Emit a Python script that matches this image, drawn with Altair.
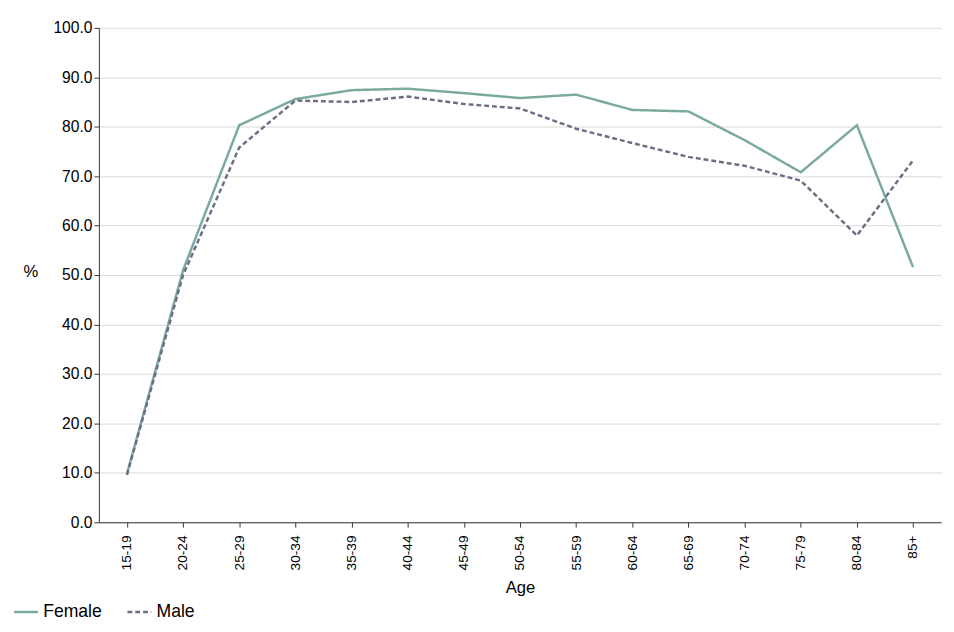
import altair as alt
import pandas as pd

ages = ["15-19", "20-24", "25-29", "30-34", "35-39", "40-44", "45-49", "50-54",
        "55-59", "60-64", "65-69", "70-74", "75-79", "80-84", "85+"]
female = [9.8, 51.0, 80.3, 85.6, 87.4, 87.7, 86.8, 85.8, 86.5, 83.4, 83.1, 77.3, 70.8, 80.3, 51.6]
male = [9.6, 50.0, 75.8, 85.3, 85.0, 86.1, 84.6, 83.7, 79.6, 76.7, 73.9, 72.1, 69.1, 58.0, 73.2]

df = pd.concat([
    pd.DataFrame({"Age": ages, "value": female, "Sex": "Female"}),
    pd.DataFrame({"Age": ages, "value": male, "Sex": "Male"}),
])

font = "Liberation Sans"

chart = alt.Chart(df).mark_line(strokeWidth=2.5).encode(
    x=alt.X("Age:N", sort=ages, title="Age",
            scale=alt.Scale(paddingOuter=0.5, paddingInner=0),
            axis=alt.Axis(labelAngle=-90, grid=False, domainColor="#333", tickColor="#333",
                          labelFontSize=14, titleFontSize=17, labelColor="#000",
                          titleFontWeight="normal", titleColor="#000", labelPadding=8,
                          titlePadding=10)),
    y=alt.Y("value:Q", title="%", scale=alt.Scale(domain=[0, 100]),
            axis=alt.Axis(values=list(range(0, 101, 10)), format=".1f", gridColor="#d9d9d9",
                          domainColor="#333", tickColor="#333", labelFontSize=16,
                          titleFontSize=17, titleAngle=0, titleFontWeight="normal",
                          titleColor="#000", labelColor="#000", titleX=-70, titleY=258)),
    color=alt.Color("Sex:N", scale=alt.Scale(domain=["Female", "Male"], range=["#7aaa9f", "#6e6d85"]),
                    legend=alt.Legend(title=None, orient="none", legendX=-88, legendY=584,
                                      direction="horizontal", symbolType="stroke",
                                      symbolSize=600, symbolStrokeWidth=2.5, labelFontSize=18,
                                      columnPadding=20)),
    strokeDash=alt.StrokeDash("Sex:N", scale=alt.Scale(domain=["Female", "Male"], range=[[1, 0], [5, 3]]),
                              legend=None),
).properties(
    width=862, height=506
).configure(font=font).configure_view(stroke=None)

chart.save("out.html", embed_options={"renderer": "svg", "actions": False})
